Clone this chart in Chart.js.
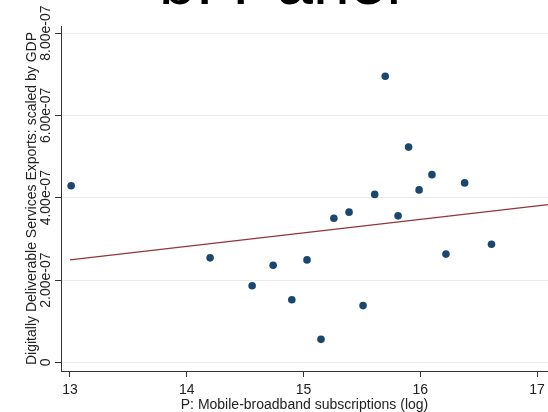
<!DOCTYPE html>
<html>
<head>
<meta charset="utf-8">
<script src="https://cdn.jsdelivr.net/npm/chart.js@4.4.1/dist/chart.umd.min.js"></script>
<style>
  body { margin: 0; background: #fff; }
  #wrap { position: relative; width: 548px; height: 412px; overflow: hidden; }
  #chart { position: absolute; left: 0; top: -40px; }
</style>
</head>
<body>
<div id="wrap"><canvas id="chart" width="548" height="452"></canvas></div>
<script>
// P: mobile-broadband subscriptions (log)
const xValues = [13.01, 14.20, 14.56, 14.74, 14.90, 15.03, 15.15, 15.26, 15.39, 15.51,
                 15.61, 15.70, 15.81, 15.90, 15.99, 16.10, 16.22, 16.38, 16.61];
// digitally deliverable services exports scaled by GDP
const yValues = [4.29e-7, 2.54e-7, 1.86e-7, 2.36e-7, 1.52e-7, 2.49e-7, 0.56e-7, 3.50e-7, 3.65e-7, 1.38e-7,
                 4.08e-7, 6.95e-7, 3.56e-7, 5.23e-7, 4.19e-7, 4.56e-7, 2.63e-7, 4.36e-7, 2.87e-7];
// fitted line end points
const fitX = [13.0, 17.094];
const fitY = [2.49e-7, 3.83e-7];

const xTicks = [13, 14, 15, 16, 17];
const yTicks = [0, 2e-7, 4e-7, 6e-7, 8e-7];
const yTickLabels = ['0', '2.00e-07', '4.00e-07', '6.00e-07', '8.00e-07'];

const FONT = '"Liberation Sans", Arial, sans-serif';

// stata style vertical tick labels on the y axis
const yLabelPlugin = {
    id: 'yLabels',
    afterDraw(chart) {
        const ctx = chart.ctx;
        const s = chart.scales.y;
        ctx.save();
        ctx.font = '14px ' + FONT;
        ctx.fillStyle = '#222';
        ctx.textAlign = 'center';
        ctx.textBaseline = 'alphabetic';
        yTicks.forEach(function (v, i) {
            ctx.save();
            ctx.translate(50, s.getPixelForValue(v));
            ctx.rotate(-Math.PI / 2);
            ctx.fillText(yTickLabels[i], 0, 0);
            ctx.restore();
        });
        ctx.restore();
    }
};

window.onload = main;

function main() {
    const points = xValues.map(function (x, i) { return { x: x, y: yValues[i] }; });
    const fit = fitX.map(function (x, i) { return { x: x, y: fitY[i] }; });

    new Chart(document.getElementById('chart'), {
        type: 'scatter',
        data: {
            datasets: [
                {
                    label: 'observations',
                    data: points,
                    backgroundColor: '#1a476f',
                    borderWidth: 0,
                    pointRadius: 3.8,
                    pointHoverRadius: 3.8
                },
                {
                    label: 'fitted values',
                    type: 'line',
                    data: fit,
                    borderColor: '#90353b',
                    borderWidth: 1.3,
                    pointRadius: 0,
                    fill: false
                }
            ]
        },
        plugins: [yLabelPlugin],
        options: {
            responsive: false,
            animation: false,
            layout: { padding: { left: 12, right: 0, top: 0, bottom: 0 }, autoPadding: false },
            plugins: {
                legend: { display: false },
                tooltip: { enabled: false },
                title: {
                    display: true,
                    text: 'b. Panel',
                    color: '#000',
                    font: { family: FONT, size: 66, weight: 'normal', lineHeight: 1 },
                    padding: { top: -7.5, bottom: 7.5 }
                }
            },
            scales: {
                x: {
                    type: 'linear',
                    min: 12.923,
                    max: 17.094,
                    afterBuildTicks: function (s) { s.ticks = xTicks.map(function (v) { return { value: v }; }); },
                    afterFit: function (s) { s.height = 41; s.paddingLeft = 0; s.paddingRight = 0; },
                    border: { display: true, color: '#333', width: 1 },
                    grid: { drawOnChartArea: false, drawTicks: true, tickLength: 6, tickColor: '#333' },
                    ticks: {
                        color: '#222',
                        font: { family: FONT, size: 14 },
                        padding: 5,
                        maxRotation: 0,
                        autoSkip: false,
                        callback: function (v) { return String(v); }
                    },
                    title: {
                        display: true,
                        text: 'P: Mobile-broadband subscriptions (log)',
                        color: '#222',
                        font: { family: FONT, size: 14, lineHeight: 1 },
                        padding: { top: 0, bottom: 0 }
                    }
                },
                y: {
                    type: 'linear',
                    min: -0.209e-7,
                    max: 8.171e-7,
                    afterBuildTicks: function (s) { s.ticks = yTicks.map(function (v) { return { value: v }; }); },
                    afterFit: function (s) { s.width = 49; },
                    border: { display: true, color: '#333', width: 1 },
                    grid: { color: '#ebebeb', lineWidth: 1, drawTicks: true, tickLength: 6, tickColor: '#333' },
                    ticks: { display: false },
                    title: {
                        display: true,
                        text: 'Digitally Deliverable Services Exports: scaled by GDP',
                        color: '#222',
                        font: { family: FONT, size: 14, lineHeight: 1.2 },
                        padding: { top: 11.6, bottom: 0 }
                    }
                }
            }
        }
    });
}
</script>
</body>
</html>
